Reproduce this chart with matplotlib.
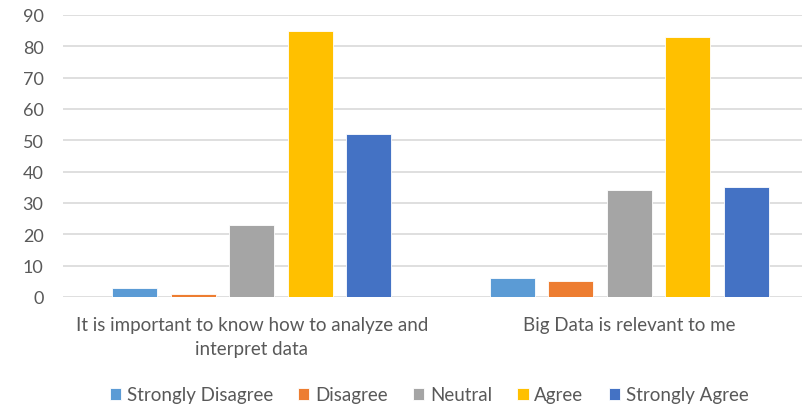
import matplotlib.pyplot as plt
import numpy as np

plt.rcParams['font.family'] = ['Lato', 'DejaVu Sans']

# data
categories = ['It is important to know how to analyze and\ninterpret data',
              'Big Data is relevant to me']
series = ['Strongly Disagree', 'Disagree', 'Neutral', 'Agree', 'Strongly Agree']
values = [
    [3, 6],    # Strongly Disagree
    [1, 5],    # Disagree
    [23, 34],  # Neutral
    [85, 83],  # Agree
    [52, 35],  # Strongly Agree
]
colors = ['#5B9BD5', '#ED7D31', '#A5A5A5', '#FFC000', '#4472C4']

fig = plt.figure(figsize=(8.03, 4.10), dpi=100)
ax = fig.add_axes([63/803, 112/410, 740/803, 282/410])

x = np.arange(len(categories))
step = 0.155
width = 0.12
for i, (name, vals) in enumerate(zip(series, values)):
    ax.bar(x + (i - 2) * step, vals, width, color=colors[i], label=name,
           edgecolor='white', linewidth=0.6, zorder=3)

ax.set_ylim(0, 90)
ax.set_yticks(range(0, 91, 10))
ax.set_xlim(-0.5, 1.46)
ax.set_xticks(x)
ax.set_xticklabels(categories, fontsize=13.5, color='#595959', linespacing=1.5)
ax.tick_params(axis='y', labelsize=13, labelcolor='#595959', length=0, pad=14)
ax.tick_params(axis='x', length=0, pad=14)
ax.grid(axis='y', color='#D9D9D9', linewidth=1.2, zorder=0)
for s in ax.spines.values():
    s.set_visible(False)

fig.legend(loc='center', bbox_to_anchor=(429/803, 1 - 396/410), ncol=5, frameon=False,
           fontsize=13.5, labelcolor='#595959', handlelength=0.6, handleheight=0.6,
           handletextpad=0.3, columnspacing=1.35)

plt.savefig('out.png')
plt.close()
